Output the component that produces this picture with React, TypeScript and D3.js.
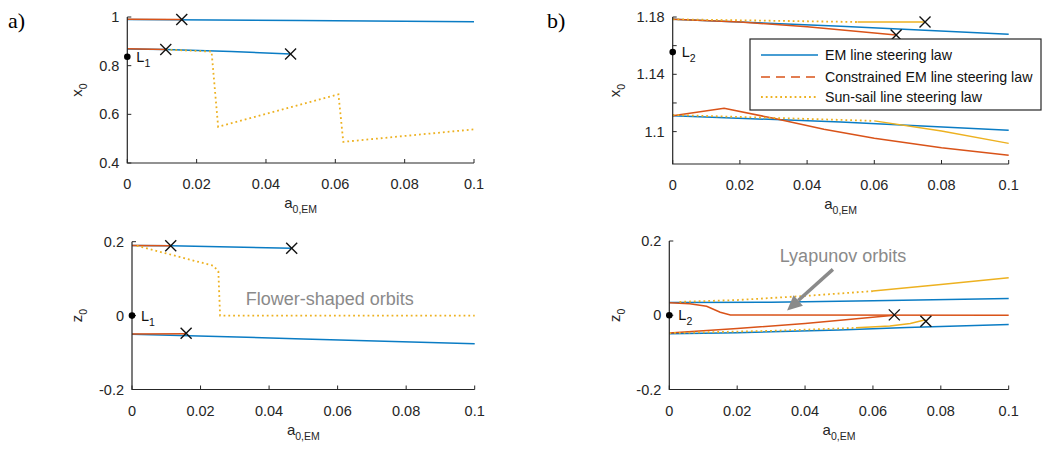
import React from "react";
import * as d3 from "d3";

type Pt = [number, number];

// ---------- tick values / labels ----------
const xTicks = [0, 0.02, 0.04, 0.06, 0.08, 0.1];
const xTickLabels = ["0", "0.02", "0.04", "0.06", "0.08", "0.1"];
const yTicksAX0 = [0.4, 0.6, 0.8, 1];
const yTickLabelsAX0 = ["0.4", "0.6", "0.8", "1"];
const yTicksZ0 = [-0.2, 0, 0.2];
const yTickLabelsZ0 = ["-0.2", "0", "0.2"];
const yTicksBX0 = [1.1, 1.12, 1.14, 1.16, 1.18];
const yTickLabelsBX0 = ["1.1", "", "1.14", "", "1.18"];

const legendLabels = [
  "EM line steering law",
  "Constrained EM line steering law",
  "Sun-sail line steering law",
];

// ---------- panel a) x0 ----------
const aX0BlueUpper: Pt[] = [[0, 0.99], [0.05, 0.986], [0.1, 0.98]];
const aX0RedUpper: Pt[] = [[0, 0.991], [0.0157, 0.99]];
const aX0BlueLower: Pt[] = [[0, 0.869], [0.0111, 0.866], [0.03, 0.858], [0.0471, 0.848]];
const aX0RedLower: Pt[] = [[0, 0.87], [0.0111, 0.866]];
const aX0Yellow: Pt[] = [[0.0111, 0.866], [0.0243, 0.858], [0.0262, 0.549], [0.0609, 0.682], [0.0623, 0.487], [0.0998, 0.538]];
const aX0Crosses: Pt[] = [[0.0157, 0.99], [0.0111, 0.866], [0.0471, 0.848]];
const aX0L1: Pt = [0, 0.8369];

// ---------- panel a) z0 ----------
const aZ0BlueUpper: Pt[] = [[0, 0.19], [0.0113, 0.189], [0.0466, 0.182]];
const aZ0RedUpper: Pt[] = [[0, 0.19], [0.0113, 0.189]];
const aZ0Yellow: Pt[] = [[0.0014, 0.189], [0.0237, 0.135], [0.0252, 0.12], [0.0257, 0], [0.1, 0]];
const aZ0BlueLower: Pt[] = [[0, -0.0503], [0.05, -0.063], [0.1, -0.0765]];
const aZ0RedLower: Pt[] = [[0, -0.05], [0.0158, -0.049]];
const aZ0Crosses: Pt[] = [[0.0113, 0.189], [0.0466, 0.182], [0.0158, -0.048]];
const aZ0L1: Pt = [0, 0];

// ---------- panel b) x0 ----------
const bX0BlueUpper: Pt[] = [[0, 1.1784], [0.05, 1.1735], [0.1, 1.1679]];
const bX0RedUpper: Pt[] = [[0, 1.1784], [0.02, 1.1765], [0.04, 1.1732], [0.0665, 1.1674]];
const bX0YellowUpperDot: Pt[] = [[0, 1.1784], [0.055, 1.1765]];
const bX0YellowUpperSolid: Pt[] = [[0.055, 1.1765], [0.0751, 1.1765]];
const bX0BlueLower: Pt[] = [[0, 1.111], [0.05, 1.1068], [0.1, 1.1009]];
const bX0RedLower: Pt[] = [[0, 1.111], [0.0153, 1.1163], [0.03, 1.1093], [0.045, 1.1016], [0.06, 1.0953], [0.08, 1.0888], [0.1, 1.0835]];
const bX0YellowLowerDot: Pt[] = [[0, 1.1116], [0.06, 1.1075]];
const bX0YellowLowerSolid: Pt[] = [[0.06, 1.1075], [0.08, 1.1005], [0.1, 1.0918]];
const bX0Crosses: Pt[] = [[0.0665, 1.1674], [0.0751, 1.1765]];
const bX0L2: Pt = [0, 1.1555];

// ---------- panel b) z0 ----------
const bZ0BlueUpper: Pt[] = [[0, 0.0345], [0.03, 0.035], [0.06, 0.039], [0.1, 0.045]];
const bZ0YellowUpperDot: Pt[] = [[0.003, 0.036], [0.02, 0.041], [0.04, 0.052], [0.06, 0.065]];
const bZ0YellowUpperSolid: Pt[] = [[0.06, 0.065], [0.08, 0.083], [0.1, 0.101]];
const bZ0RedUpper: Pt[] = [[0, 0.034], [0.006, 0.031], [0.011, 0.024], [0.015, 0.008], [0.018, 0.001], [0.1, 0]];
const bZ0RedLower: Pt[] = [[0, -0.048], [0.02, -0.036], [0.04, -0.022], [0.0663, 0]];
const bZ0YellowLowerDot: Pt[] = [[0, -0.048], [0.03, -0.042], [0.055, -0.034]];
const bZ0YellowLowerSolid: Pt[] = [[0.055, -0.034], [0.065, -0.029], [0.071, -0.022], [0.0755, -0.012]];
const bZ0BlueLower: Pt[] = [[0, -0.0495], [0.02, -0.047], [0.05, -0.04], [0.07, -0.033], [0.1, -0.025]];
const bZ0Crosses: Pt[] = [[0.0663, 0.001], [0.0756, -0.016]];
const bZ0L2: Pt = [0, 0];
const bZ0ArrowTail: Pt = [0.0482, 0.1235];
const bZ0ArrowHead: Pt = [0.0347, 0.0127];

const BLUE = "#0a7cc4";
const RED = "#D95319";
const YELLOW = "#EDB120";
const AX = "#262626";
const GRAY = "#8a8a8a";
const FONT = "Liberation Sans, Arial, Helvetica, sans-serif";

type Style = "solid" | "dashed" | "dotted";
interface Series { data: Pt[]; color: string; style: Style; }

interface PanelCfg {
  x0: number; x1: number; yTop: number; yBot: number;
  yDomain: [number, number];
  yTicks: number[]; yLabels: string[];
  series: Series[];
  crosses: Pt[];
  lPoint: Pt; lSub: string;
  yLabelX: number; yName: string;
}

const dash = (s: Style) => (s === "dashed" ? "9,6" : s === "dotted" ? "1.8,3" : undefined);
const width = (s: Style) => (s === "dotted" ? 1.8 : 1.5);

function Panel({ c, children }: { c: PanelCfg; children?: (x: any, y: any) => React.ReactNode }) {
  const x = d3.scaleLinear().domain([0, 0.1]).range([c.x0, c.x1]);
  const y = d3.scaleLinear().domain(c.yDomain).range([c.yBot, c.yTop]);
  const line = d3.line<Pt>().x((d) => x(d[0])).y((d) => y(d[1]));
  const yMid = (c.yTop + c.yBot) / 2;
  const xMid = (c.x0 + c.x1) / 2;
  return (
    <g>
      {c.series.map((s, i) => (
        <path key={i} d={line(s.data) || ""} fill="none" stroke={s.color}
          strokeWidth={width(s.style)} strokeDasharray={dash(s.style)} />
      ))}
      {c.crosses.map((p, i) => {
        const px = x(p[0]), py = y(p[1]), r = 5.5;
        return (
          <g key={i} stroke="#111" strokeWidth={1.4}>
            <line x1={px - r} y1={py - r} x2={px + r} y2={py + r} />
            <line x1={px - r} y1={py + r} x2={px + r} y2={py - r} />
          </g>
        );
      })}
      {/* axes */}
      <path d={`M${c.x0},${c.yTop}V${c.yBot}H${c.x1}`} fill="none" stroke={AX} strokeWidth={1.2} />
      {xTicks.map((t, i) => (
        <g key={i}>
          <line x1={x(t)} x2={x(t)} y1={c.yBot} y2={c.yBot - 4} stroke={AX} />
          <text x={x(t)} y={c.yBot + 26} textAnchor="middle" fontSize={14.5} fill={AX} fontFamily={FONT}>{xTickLabels[i]}</text>
        </g>
      ))}
      {c.yTicks.map((t, i) => (
        <g key={i}>
          <line x1={c.x0} x2={c.x0 + 4} y1={y(t)} y2={y(t)} stroke={AX} />
          <text x={c.x0 - 8} y={y(t) + 5} textAnchor="end" fontSize={14.5} fill={AX} fontFamily={FONT}>{c.yLabels[i]}</text>
        </g>
      ))}
      <text x={xMid} y={c.yBot + 45} textAnchor="middle" fontSize={15} fill={AX} fontFamily={FONT}>
        a<tspan fontSize={10.5} dy={5}>0,EM</tspan>
      </text>
      <text transform={`translate(${c.yLabelX},${yMid}) rotate(-90)`} textAnchor="middle" fontSize={15} fill={AX} fontFamily={FONT}>
        {c.yName}<tspan fontSize={10.5} dy={5}>0</tspan>
      </text>
      {/* Lagrange point */}
      <circle cx={x(c.lPoint[0])} cy={y(c.lPoint[1])} r={3.3} fill="#000" />
      <text x={x(c.lPoint[0]) + 9} y={y(c.lPoint[1]) + 5} fontSize={14.5} fill="#111" fontFamily={FONT}>
        L<tspan fontSize={10.5} dy={5}>{c.lSub}</tspan>
      </text>
      {children ? children(x, y) : null}
    </g>
  );
}

const panels: PanelCfg[] = [
  {
    x0: 127.3, x1: 474, yTop: 17, yBot: 163, yDomain: [0.4, 1],
    yTicks: yTicksAX0, yLabels: yTickLabelsAX0,
    series: [
      { data: aX0BlueUpper, color: BLUE, style: "solid" },
      { data: aX0BlueLower, color: BLUE, style: "solid" },
      { data: aX0RedUpper, color: RED, style: "solid" },
      { data: aX0RedLower, color: RED, style: "solid" },
      { data: aX0Yellow, color: YELLOW, style: "dotted" },
    ],
    crosses: aX0Crosses, lPoint: aX0L1, lSub: "1", yLabelX: 82, yName: "x",
  },
  {
    x0: 132, x1: 474.7, yTop: 241.7, yBot: 389.5, yDomain: [-0.2, 0.2],
    yTicks: yTicksZ0, yLabels: yTickLabelsZ0,
    series: [
      { data: aZ0BlueUpper, color: BLUE, style: "solid" },
      { data: aZ0BlueLower, color: BLUE, style: "solid" },
      { data: aZ0RedUpper, color: RED, style: "solid" },
      { data: aZ0RedLower, color: RED, style: "solid" },
      { data: aZ0Yellow, color: YELLOW, style: "dotted" },
    ],
    crosses: aZ0Crosses, lPoint: aZ0L1, lSub: "1", yLabelX: 82, yName: "z",
  },
  {
    x0: 672.7, x1: 1008.7, yTop: 17, yBot: 164, yDomain: [1.0774, 1.18],
    yTicks: yTicksBX0, yLabels: yTickLabelsBX0,
    series: [
      { data: bX0BlueUpper, color: BLUE, style: "solid" },
      { data: bX0BlueLower, color: BLUE, style: "solid" },
      { data: bX0RedUpper, color: RED, style: "solid" },
      { data: bX0RedLower, color: RED, style: "solid" },
      { data: bX0YellowUpperDot, color: YELLOW, style: "dotted" },
      { data: bX0YellowUpperSolid, color: YELLOW, style: "solid" },
      { data: bX0YellowLowerDot, color: YELLOW, style: "dotted" },
      { data: bX0YellowLowerSolid, color: YELLOW, style: "solid" },
    ],
    crosses: bX0Crosses, lPoint: bX0L2, lSub: "2", yLabelX: 620, yName: "x",
  },
  {
    x0: 669.3, x1: 1008.7, yTop: 241, yBot: 389.5, yDomain: [-0.2, 0.2],
    yTicks: yTicksZ0, yLabels: yTickLabelsZ0,
    series: [
      { data: bZ0BlueUpper, color: BLUE, style: "solid" },
      { data: bZ0BlueLower, color: BLUE, style: "solid" },
      { data: bZ0RedUpper, color: RED, style: "solid" },
      { data: bZ0RedLower, color: RED, style: "solid" },
      { data: bZ0YellowUpperDot, color: YELLOW, style: "dotted" },
      { data: bZ0YellowUpperSolid, color: YELLOW, style: "solid" },
      { data: bZ0YellowLowerDot, color: YELLOW, style: "dotted" },
      { data: bZ0YellowLowerSolid, color: YELLOW, style: "solid" },
    ],
    crosses: bZ0Crosses, lPoint: bZ0L2, lSub: "2", yLabelX: 620, yName: "z",
  },
];

function Arrow({ x1, y1, x2, y2 }: { x1: number; y1: number; x2: number; y2: number }) {
  const ang = Math.atan2(y2 - y1, x2 - x1);
  const hl = 15, hw = 7;
  const bx = x2 - hl * Math.cos(ang), by = y2 - hl * Math.sin(ang);
  const nx = -Math.sin(ang), ny = Math.cos(ang);
  return (
    <g fill={GRAY} stroke="none">
      <line x1={x1} y1={y1} x2={bx} y2={by} stroke={GRAY} strokeWidth={3.5} />
      <path d={`M${x2},${y2}L${bx + nx * hw},${by + ny * hw}L${bx - nx * hw},${by - ny * hw}Z`} />
    </g>
  );
}

export default function App() {
  const legendX = 750, legendY = 39;
  const legendRows = [
    { color: BLUE, style: "solid" as Style, y: 55 },
    { color: RED, style: "dashed" as Style, y: 77 },
    { color: YELLOW, style: "dotted" as Style, y: 97 },
  ];
  return (
    <svg width={1049} height={452} style={{ position: "absolute", left: 0, top: 0, background: "#fff" }}>
      <rect width={1049} height={452} fill="#fff" />
      <text x={8} y={28} fontSize={22} fontFamily="Liberation Serif, Times New Roman, serif" fill="#000">a)</text>
      <text x={547} y={28} fontSize={22} fontFamily="Liberation Serif, Times New Roman, serif" fill="#000">b)</text>
      <Panel c={panels[0]} />
      <Panel c={panels[1]}>
        {(x) => (
          <text x={x(0.0577)} y={304.5} textAnchor="middle" fontSize={18} fill={GRAY} fontFamily={FONT}>Flower-shaped orbits</text>
        )}
      </Panel>
      <Panel c={panels[2]} />
      <Panel c={panels[3]}>
        {(x, y) => (
          <g>
            <text x={843} y={262} textAnchor="middle" fontSize={18} fill={GRAY} fontFamily={FONT}>Lyapunov orbits</text>
            <Arrow x1={x(bZ0ArrowTail[0])} y1={y(bZ0ArrowTail[1])} x2={x(bZ0ArrowHead[0])} y2={y(bZ0ArrowHead[1])} />
          </g>
        )}
      </Panel>
      {/* legend */}
      <rect x={legendX} y={legendY} width={291} height={71} fill="#fff" stroke={AX} strokeWidth={1.2} />
      {legendRows.map((r, i) => (
        <g key={i}>
          <line x1={761} x2={818} y1={r.y} y2={r.y} stroke={r.color} strokeWidth={width(r.style)} strokeDasharray={dash(r.style)} />
          <text x={825} y={r.y + 5} fontSize={14.2} fill="#111" fontFamily={FONT}>{legendLabels[i]}</text>
        </g>
      ))}
    </svg>
  );
}
